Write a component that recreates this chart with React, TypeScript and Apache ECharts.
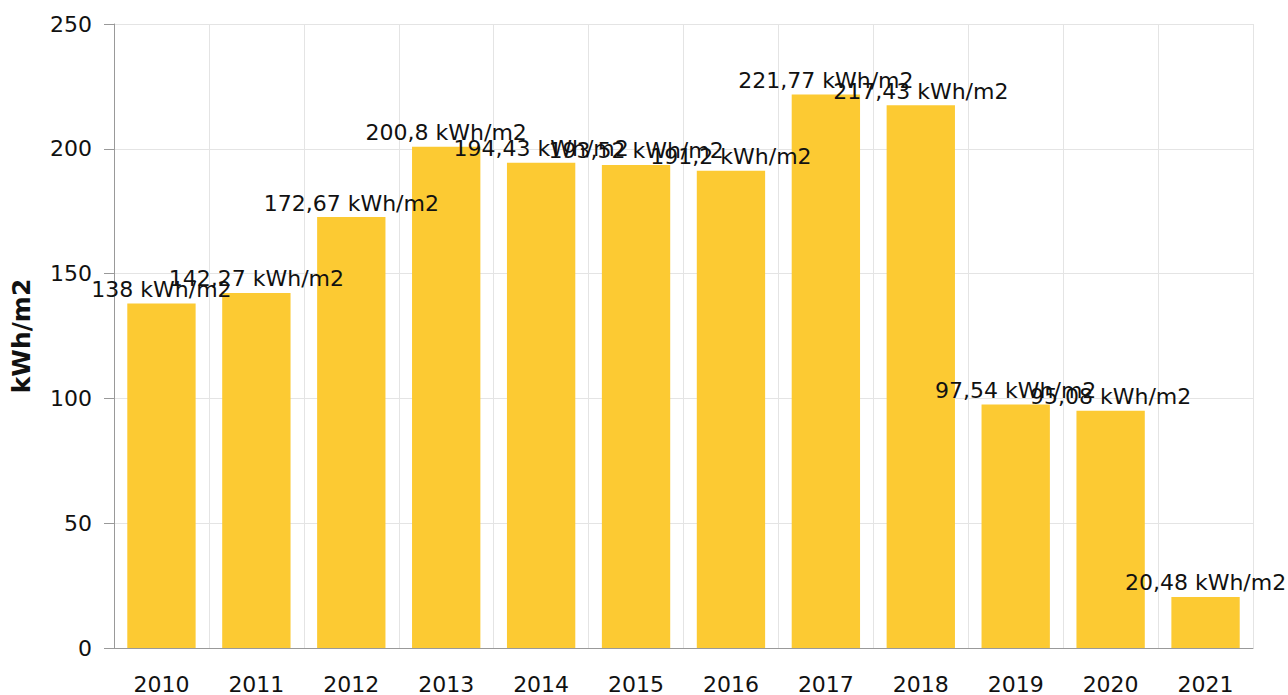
import React, { useEffect, useRef } from "react";
import * as echarts from "echarts";

const years = ["2010", "2011", "2012", "2013", "2014", "2015", "2016", "2017", "2018", "2019", "2020", "2021"];
const values = [138, 142.27, 172.67, 200.8, 194.43, 193.52, 191.2, 221.77, 217.43, 97.54, 95.08, 20.48];
const yTicks = [0, 50, 100, 150, 200, 250];
const unit = "kWh/m2";

const FONT = "DejaVu Sans, Verdana, sans-serif";

export default function App() {
  const ref = useRef<HTMLDivElement>(null);
  useEffect(() => {
    if (!ref.current) return;
    const chart = echarts.init(ref.current, undefined, { renderer: "svg" });
    chart.setOption({
      animation: false,
      grid: { left: 114, right: 35, top: 24, bottom: 47 },
      xAxis: {
        type: "category",
        data: years,
        axisLine: { lineStyle: { color: "#999" } },
        axisTick: { alignWithLabel: true, length: 10, lineStyle: { color: "#999" } },
        axisLabel: { color: "#111", fontSize: 22, fontFamily: FONT, margin: 25 },
        splitLine: { show: true, lineStyle: { color: "#e4e4e4" } },
      },
      yAxis: {
        type: "value",
        min: yTicks[0],
        max: yTicks[yTicks.length - 1],
        interval: 50,
        name: unit,
        nameLocation: "middle",
        nameGap: 80,
        nameTextStyle: { color: "#111", fontSize: 25, fontWeight: "bold", fontFamily: FONT },
        axisLine: { show: true, lineStyle: { color: "#999" } },
        axisTick: { show: true, length: 10, lineStyle: { color: "#999" } },
        axisLabel: { color: "#111", fontSize: 22, fontFamily: FONT, margin: 22 },
        splitLine: { show: true, lineStyle: { color: "#e4e4e4" } },
      },
      series: [
        {
          type: "bar",
          data: values,
          barCategoryGap: "28%",
          itemStyle: { color: "#FCCA33" },
          label: {
            show: true,
            position: "top",
            distance: 3,
            color: "#111",
            fontSize: 22,
            fontFamily: FONT,
            formatter: (p: any) => String(p.value).replace(".", ",") + " " + unit,
          },
        },
      ],
    });
    return () => chart.dispose();
  }, []);
  return <div ref={ref} style={{ width: 1288, height: 695, position: "absolute", left: 0, top: 0 }} />;
}
